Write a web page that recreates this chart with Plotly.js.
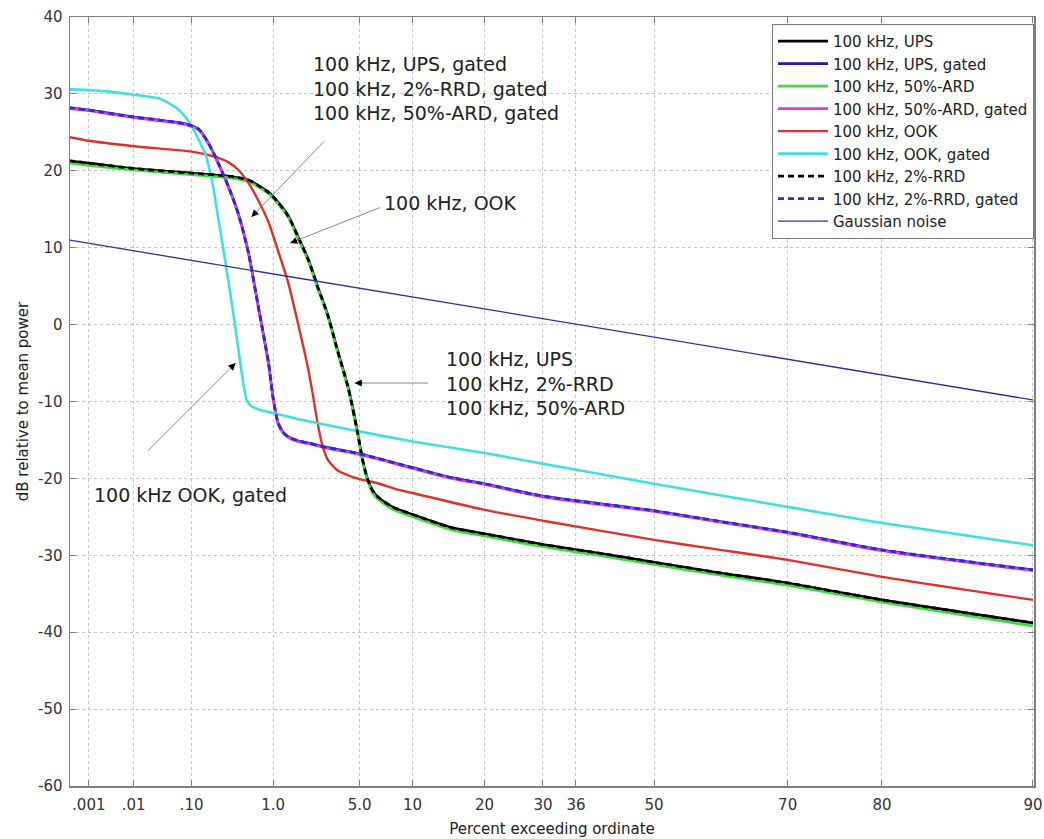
<!DOCTYPE html>
<html>
<head>
<meta charset="utf-8">
<script src="https://cdn.plot.ly/plotly-3.0.1.min.js"></script>
<style>
  html, body { margin: 0; padding: 0; background: #ffffff; overflow: hidden; }
  #chart { width: 1044px; height: 839px; }
</style>
</head>
<body>
<div id="chart"></div>
<script>
// Amplitude probability distributions of 100 kHz signals:
// percent of time the level is exceeded, level in dB relative to mean power.

const pctUps = [0.0003, 0.001, 0.01, 0.1, 0.32, 0.55, 0.7, 0.9, 1.12, 1.4, 1.7, 2.1, 2.5, 3.0, 3.5, 4.2, 4.85, 5.2, 5.6, 6.0, 6.4, 7.35, 8, 10, 15, 20, 30, 40, 50, 60, 70, 80, 90];
const dbUps = [21.3, 21.0, 20.3, 19.7, 19.3, 18.8, 18.1, 17.2, 15.9, 14.1, 11.5, 8.4, 4.9, 1.2, -3.1, -8.2, -14.0, -17.4, -20.0, -21.5, -22.3, -23.3, -23.8, -24.7, -26.4, -27.2, -28.6, -29.7, -30.9, -32.2, -33.6, -35.8, -38.8];
const dbArd = [21.0, 20.7, 20.1, 19.5, 19.1, 18.6, 17.9, 17.0, 15.7, 13.9, 11.3, 8.2, 4.7, 1.0, -3.3, -8.4, -14.2, -17.6, -20.2, -21.8, -22.6, -23.6, -24.1, -25.0, -26.7, -27.5, -28.9, -30.0, -31.2, -32.5, -33.9, -36.1, -39.2];
const dbRrd = [21.3, 21.0, 20.3, 19.7, 19.3, 18.8, 18.1, 17.2, 15.9, 14.1, 11.5, 8.4, 4.9, 1.2, -3.1, -8.2, -14.0, -17.4, -20.0, -21.5, -22.3, -23.3, -23.8, -24.7, -26.4, -27.2, -28.6, -29.7, -30.9, -32.2, -33.6, -35.8, -38.8];

const pctGated = [0.0003, 0.001, 0.003, 0.01, 0.03, 0.06, 0.09, 0.128, 0.177, 0.239, 0.32, 0.42, 0.55, 0.7, 0.9, 1.0, 1.12, 1.25, 1.4, 1.7, 2.1, 3, 5, 10, 15, 20, 30, 50, 60, 70, 80, 90];
const dbUpsGated = [28.2, 27.9, 27.5, 27.0, 26.6, 26.3, 26.0, 25.4, 23.5, 20.9, 17.9, 14.4, 9.3, 2.5, -5.0, -9.5, -12.8, -14.0, -14.6, -15.1, -15.4, -16.0, -16.8, -18.6, -19.9, -20.7, -22.3, -24.2, -25.5, -27.0, -29.3, -31.9];
const dbArdGated = [28.1, 27.8, 27.4, 26.9, 26.5, 26.2, 25.9, 25.3, 23.4, 20.8, 17.8, 14.3, 9.2, 2.4, -5.1, -9.6, -12.9, -14.1, -14.7, -15.2, -15.5, -16.1, -16.9, -18.7, -20.0, -20.8, -22.4, -24.3, -25.6, -27.1, -29.4, -32.0];
const dbRrdGated = [28.2, 27.9, 27.5, 27.0, 26.6, 26.3, 26.0, 25.4, 23.5, 20.9, 17.9, 14.4, 9.3, 2.5, -5.0, -9.5, -12.8, -14.0, -14.6, -15.1, -15.4, -16.0, -16.8, -18.6, -19.9, -20.7, -22.3, -24.2, -25.5, -27.0, -29.3, -31.9];

const pctOok = [0.0003, 0.001, 0.01, 0.1, 0.2, 0.32, 0.42, 0.55, 0.7, 0.9, 1.12, 1.4, 1.7, 2.08, 2.29, 2.5, 2.74, 3.0, 3.5, 4.2, 5, 6.4, 8.5, 10, 20, 30, 50, 60, 70, 80, 90];
const dbOok = [24.4, 23.9, 23.2, 22.5, 21.9, 21.1, 20.1, 18.4, 16.2, 13.3, 9.6, 5.4, 0.3, -5.6, -9.2, -12.9, -15.9, -17.6, -18.9, -19.6, -20.1, -20.6, -21.5, -21.9, -24.1, -25.5, -28.0, -29.2, -30.6, -32.8, -35.8];

const pctOokGated = [0.0003, 0.001, 0.003, 0.01, 0.03, 0.044, 0.064, 0.091, 0.128, 0.161, 0.177, 0.206, 0.239, 0.277, 0.32, 0.368, 0.422, 0.482, 0.521, 0.578, 0.7, 1.0, 2, 5, 10, 20, 30, 50, 60, 70, 80, 90];
const dbOokGated = [30.6, 30.5, 30.3, 29.9, 29.4, 28.8, 27.9, 26.4, 24.0, 22.0, 20.5, 17.5, 13.5, 9.6, 5.5, 1.2, -3.3, -7.8, -9.7, -10.5, -11.0, -11.5, -12.5, -13.9, -15.2, -16.7, -18.1, -20.7, -22.1, -23.7, -25.8, -28.7];

const pctGauss = [0.0003, 90];
const dbGauss = [11.0, -9.8];

const xTickPct = [0.001, 0.01, 0.1, 1, 5, 10, 20, 30, 36, 50, 70, 80, 90];
const xTickText = ['.001', '.01', '.10', '1.0', '5.0', '10', '20', '30', '36', '50', '70', '80', '90'];
const yTickVals = [-60, -50, -40, -30, -20, -10, 0, 10, 20, 30, 40];
const yTickText = ['-60', '-50', '-40', '-30', '-20', '-10', '0', '10', '20', '30', '40'];

// Rayleigh probability paper: abscissa is -log10(-ln(P)), so Rayleigh noise plots as a straight line
const toAxis = p => -Math.log10(-Math.log(p / 100));

const FONT = 'DejaVu Sans, Arial, sans-serif';

function curve(name, pct, db, color, width, dash) {
  return {
    type: 'scatter', mode: 'lines', name: name,
    x: pct.map(toAxis), y: db,
    line: { color: color, width: width, dash: dash || 'solid', shape: 'spline', smoothing: 0.6 },
    hoverinfo: 'skip'
  };
}

const traces = [
  curve('100 kHz, UPS', pctUps, dbUps, '#000000', 2.6),
  curve('100 kHz, UPS, gated', pctGated, dbUpsGated, '#1c1ca8', 2.6),
  curve('100 kHz, 50%-ARD', pctUps, dbArd, '#3cdc3c', 2.6),
  curve('100 kHz, 50%-ARD, gated', pctGated, dbArdGated, '#dc3cdc', 2.6),
  curve('100 kHz, OOK', pctOok, dbOok, '#e0302a', 2.4),
  curve('100 kHz, OOK, gated', pctOokGated, dbOokGated, '#40e0e0', 2.6),
  curve('100 kHz, 2%-RRD', pctUps, dbRrd, '#000000', 2.8, '6px,4px'),
  curve('100 kHz, 2%-RRD, gated', pctGated, dbRrdGated, '#2a2ad6', 2.8, '6px,4px'),
  curve('Gaussian noise', pctGauss, dbGauss, '#3030a0', 1.3)
];

// Callout arrows: a grey leader with a black head at the pointed curve
function callout(pct, db, ax, ay) {
  const x = toAxis(pct);
  const len = Math.sqrt(ax * ax + ay * ay);
  return [
    { x: x, y: db, xref: 'x', yref: 'y', text: '', showarrow: true, arrowhead: 0,
      arrowwidth: 1, arrowcolor: '#8a8a8a', ax: ax, ay: ay },
    { x: x, y: db, xref: 'x', yref: 'y', text: '', showarrow: true, arrowhead: 2,
      arrowsize: 1.1, arrowwidth: 1.3, arrowcolor: '#000000', ax: ax * 9 / len, ay: ay * 9 / len }
  ];
}

function label(pct, db, text) {
  return {
    x: toAxis(pct), y: db, xref: 'x', yref: 'y', text: text, showarrow: false,
    xanchor: 'left', yanchor: 'middle', align: 'left',
    font: { family: FONT, size: 19, color: '#222222' }
  };
}

const annotations = [
  label(2.20, 30.7, '100 kHz, UPS, gated<br>100 kHz, 2%-RRD, gated<br>100 kHz, 50%-ARD, gated'),
  label(6.89, 15.8, '100 kHz, OOK'),
  label(13.9, -7.6, '100 kHz, UPS<br>100 kHz, 2%-RRD<br>100 kHz, 50%-ARD'),
  label(0.00119, -22.2, '100 kHz OOK, gated'),
  ...callout(0.593, 14.0, 74, -77),
  ...callout(1.455, 10.6, 91, -36),
  ...callout(4.64, -7.6, 75, 0),
  ...callout(0.389, -5.0, -89, 89)
];

const axisCommon = {
  showline: true, linecolor: '#808080', linewidth: 1.5, mirror: 'ticks',
  ticks: 'inside', ticklen: 6, tickcolor: '#808080', tickwidth: 1,
  showgrid: true, gridcolor: '#c4c4c4', gridwidth: 1, griddash: 'dot',
  zeroline: false, automargin: false,
  tickfont: { family: FONT, size: 15, color: '#333333' }
};

const layout = {
  width: 1044, height: 839,
  margin: { l: 70, r: 10, t: 17, b: 53 },
  paper_bgcolor: '#ffffff', plot_bgcolor: '#ffffff',
  font: { family: FONT, color: '#222222' },
  showlegend: true,
  legend: {
    x: 1.0, xanchor: 'right', y: 0.991, yanchor: 'top',
    bgcolor: '#ffffff', bordercolor: '#7a7a7a', borderwidth: 1,
    font: { family: FONT, size: 15, color: '#222222' },
    itemwidth: 50, entrywidth: 262, entrywidthmode: 'pixels', tracegroupgap: 0
  },
  xaxis: Object.assign({}, axisCommon, {
    range: [toAxis(0.000324), toAxis(90.05)],
    tickmode: 'array', tickvals: xTickPct.map(toAxis), ticktext: xTickText,
    ticklabelstandoff: 4, ticklabeloverflow: 'allow',
    title: { text: 'Percent exceeding ordinate', font: { family: FONT, size: 15, color: '#222222' }, standoff: 11 }
  }),
  yaxis: Object.assign({}, axisCommon, {
    range: [-60, 40],
    tickmode: 'array', tickvals: yTickVals, ticktext: yTickText,
    ticklabelstandoff: 3,
    title: { text: 'dB relative to mean power', font: { family: FONT, size: 15, color: '#222222' }, standoff: 6 }
  }),
  annotations: annotations
};

Plotly.newPlot('chart', traces, layout, { staticPlot: true, displayModeBar: false });
</script>
</body>
</html>
